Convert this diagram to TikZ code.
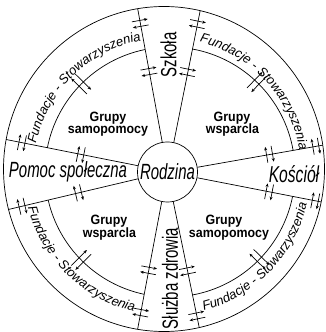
\documentclass[tikz,border=0pt]{standalone}
\usepackage{fontspec}
\setmainfont{Liberation Sans}
\newfontfamily\narrowfont[FakeStretch=0.68]{Liberation Sans}
\newfontfamily\boldnarrow[FakeStretch=0.92]{Liberation Sans}
\usetikzlibrary{calc,decorations.text,arrows.meta}
\newcommand\fundfont{\fontsize{13}{15}\selectfont\itshape}
\tikzset{
  ln/.style={line width=0.7pt},
  tip/.tip={Stealth[length=3.5pt,width=3pt]},
  tickpair/.pic={
    \draw[ln,-tip] (-8,3) -- (8,3);
    \draw[ln,tip-] (-8,-3) -- (8,-3);
  },
  longpair/.pic={
    \draw[ln,-tip] (-11,3) -- (11,3);
    \draw[ln,tip-] (-11,-3) -- (11,-3);
  },
  bigital/.style={font=\narrowfont\itshape\fontsize{23}{25}\selectfont, inner sep=0pt},
  bigup/.style={font=\narrowfont\fontsize{22}{24}\selectfont, inner sep=0pt, rotate=90},
  grp/.style={font=\boldnarrow\bfseries\fontsize{13.5}{14}\selectfont, inner sep=0pt, anchor=base},
  fund/.style={decorate, decoration={text along path,
     text={|\fundfont|Fundacje - Stowarzyszenia}, text align=center}}
}
\begin{document}
\begin{tikzpicture}[x=1pt,y=1pt]
\useasboundingbox (0,0) rectangle (326,332);
\coordinate (C) at (167,160);
\coordinate (O) at (164,163);
\coordinate (M) at (170,160);

% outer ring
\draw[ln] (O) ellipse [x radius=160.5, y radius=162.5];

% centre
\node[circle, draw, ln, minimum size=60pt, inner sep=0pt,
      font=\narrowfont\itshape\fontsize{22}{24}\selectfont] (rod) at (167.5,160) {Rodzina};

% band lines
\begin{scope}
  \clip (O) ellipse [x radius=160.5, y radius=162.5];
  \foreach \a in {9.8,78.4,100.2,168.6,193.3,259.4,281.7,349}
    \draw[ln] (rod.\a) -- ($(C)+(\a:180)$);
\end{scope}

% middle arcs
\draw[ln] ($(M)+(10:125)$) arc[start angle=10, end angle=79.8, radius=125];
\draw[ln] ($(M)+(101.6:125)$) arc[start angle=101.6, end angle=168.9, radius=125];
\draw[ln] ($(M)+(193:125)$) arc[start angle=193, end angle=258, radius=125];
\draw[ln] ($(M)+(280.3:125)$) arc[start angle=280.3, end angle=348.7, radius=125];

% Fundacje texts
\path[fund] ($(C)+(174.5:134)$) arc[start angle=174.5, end angle=94.5, radius=134];
\path[fund] ($(C)+(82.5:134)$) arc[start angle=82.5, end angle=2.5, radius=134];
\path[fund] ($(C)+(185.5:143.5)$) arc[start angle=185.5, end angle=265.5, radius=143.5];
\path[fund] ($(C)+(-84:143.5)$) arc[start angle=-84, end angle=-4, radius=143.5];

% band labels
\node[bigup] (szk) at (168.5,277) {Szkoła};
\node[bigup] (slu) at (170,53.5) {Służba zdrowia};
\node[bigital, anchor=base] (kos) at (294,149) {Kościół};
\node[bigital, anchor=base, font=\narrowfont\itshape\fontsize{22}{24}\selectfont] (pom) at (68,154) {Pomoc społeczna};

% group labels
\node[grp] (g1a) at (108,210.3) {Grupy};
\node[grp] (g1b) at (108,198.7) {samopomocy};
\node[grp] (g2a) at (232,210.3) {Grupy};
\node[grp] (g2b) at (232.5,198.7) {wsparcla};
\node[grp] (g3a) at (109,107.7) {Grupy};
\node[grp] (g3b) at (109.5,94.3) {wsparcla};
\node[grp] (g4a) at (224,107.7) {Grupy};
\node[grp] (g4b) at (229,94.3) {samopomocy};

% tick pairs on band lines
\foreach \a/\d in {100.2/151,100.2/102,78.4/151,78.4/102,168.6/148,168.6/88,
                   193.3/149,193.3/91,9.8/151,9.8/104,349/151,349/104,
                   259.4/143,259.4/100,281.7/147,281.7/101}
  \pic[rotate=\a+90] at ($(C)+(\a:\d)$) {tickpair};

% tick pairs on middle arcs
\foreach \p in {135.3,46,224.7,315.7}
  \pic[rotate=\p] at ($(M)+(\p:125)$) {longpair};
\end{tikzpicture}
\end{document}
